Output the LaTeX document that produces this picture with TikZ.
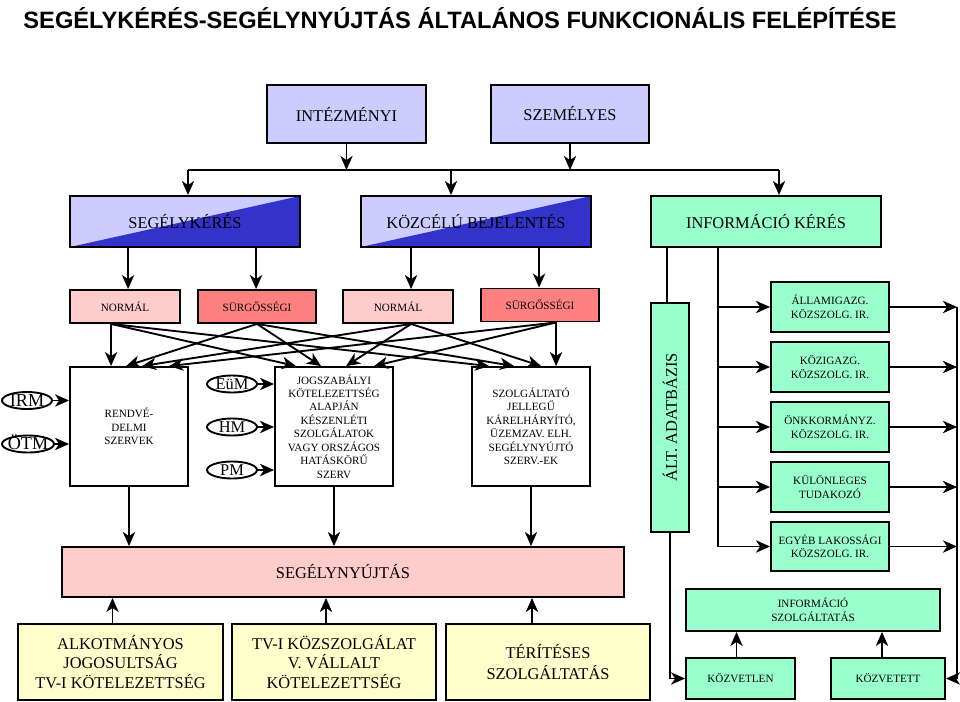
\documentclass[tikz,border=0pt]{standalone}
\usepackage{fontspec}
\setmainfont{Liberation Serif}
\newfontfamily\cimfont{Liberation Sans}
\usetikzlibrary{arrows.meta,shapes.geometric,calc}

\definecolor{lila}{HTML}{CCCCFF}
\definecolor{kek}{HTML}{3333CC}
\definecolor{menta}{HTML}{99FFCC}
\definecolor{rozsa}{HTML}{FFCCCC}
\definecolor{piros}{HTML}{FF8080}
\definecolor{sarga}{HTML}{FFFFCC}

\begin{document}
\begin{tikzpicture}[x=0.03cm, y=-0.03cm,
	doboz/.style={draw, line width=1.6pt, inner sep=1pt, align=center},
	meret/.style 2 args={minimum width=#1*0.03cm, minimum height=#2*0.03cm},
	nagy/.style={font=\fontsize{14}{16.5}\selectfont},
	kicsi/.style={font=\fontsize{9.5}{11.5}\selectfont},
	kor/.style={draw, ellipse, line width=1.6pt, inner sep=0pt, text height=9.5pt, text depth=0pt, minimum width=50*0.03cm, minimum height=17*0.03cm, font=\fontsize{14}{16}\selectfont},
	nyil/.style={-{Stealth[length=12pt,width=10.5pt,inset=3.5pt]}, line width=1.6pt},
	vonal/.style={line width=1.6pt},
	felkek/.style={fill=lila, path picture={\fill[kek] (path picture bounding box.south west) -- (path picture bounding box.north east) -- (path picture bounding box.south east) -- cycle;}}]
	\useasboundingbox (0,0) rectangle (960,701);
	\node[font=\cimfont\bfseries\fontsize{20.2}{22}\selectfont, anchor=base] (cim) at (460,28) {SEGÉLYKÉRÉS-SEGÉLYNYÚJTÁS ÁLTALÁNOS FUNKCIONÁLIS FELÉPÍTÉSE};
	% felso sor
	\node[doboz, nagy, fill=lila, meret={159}{58}] (intez) at (346.5,114) {INTÉZMÉNYI};
	\node[doboz, nagy, fill=lila, meret={158}{58}] (szem) at (570,114) {SZEMÉLYES};
	\coordinate (gyujtoB) at (188,170);
	\coordinate (gyujtoK) at (451,170);
	\coordinate (gyujtoJ) at (779,170);
	\draw[vonal] (gyujtoB) -- (gyujtoJ);
	\draw[nyil] (intez.south) -- (intez.south |- gyujtoB);
	\draw[nyil] (szem.south) -- (szem.south |- gyujtoB);
	% keresek
	\node[doboz, nagy, felkek, meret={230}{51}] (segk) at (185,221.5) {SEGÉLYKÉRÉS};
	\node[doboz, nagy, felkek, meret={230}{51}] (kozc) at (476,221.5) {KÖZCÉLÚ BEJELENTÉS};
	\node[doboz, nagy, fill=menta, meret={230}{51}] (infk) at (766,221.5) {INFORMÁCIÓ KÉRÉS};
	\foreach \g/\n in {gyujtoB/segk, gyujtoK/kozc, gyujtoJ/infk}
		\draw[nyil] (\g) -- (\g |- \n.north);
	% normal / surgossegi
	\node[doboz, kicsi, fill=rozsa, meret={110}{33}] (norm1) at (125,306.5) {NORMÁL};
	\node[doboz, kicsi, fill=piros, meret={118}{33}] (surg1) at (257,306.5) {SÜRGŐSSÉGI};
	\node[doboz, kicsi, fill=rozsa, meret={110}{33}] (norm2) at (398,306.5) {NORMÁL};
	\node[doboz, kicsi, fill=piros, meret={118}{33}] (surg2) at (540,305) {SÜRGŐSSÉGI};
	\coordinate (k1) at ($(segk.south west)+(59,0)$);
	\coordinate (k2) at ($(segk.south west)+(187,0)$);
	\coordinate (k3) at ($(kozc.south west)+(51,0)$);
	\coordinate (k4) at ($(kozc.south west)+(179,0)$);
	\foreach \k/\n in {k1/norm1, k2/surg1, k3/norm2, k4/surg2}
		\draw[nyil] (\k) -- (\k |- \n.north);
	% szervek
	\node[doboz, kicsi, meret={118}{119}] (rend) at (129,426.5) {RENDVÉ-\\DELMI\\SZERVEK};
	\node[doboz, kicsi, meret={118}{119}] (jog) at (334,426.5) {JOGSZABÁLYI\\KÖTELEZETTSÉG\\ALAPJÁN\\KÉSZENLÉTI\\SZOLGÁLATOK\\VAGY ORSZÁGOS\\HATÁSKÖRŰ\\SZERV};
	\node[doboz, kicsi, meret={118}{119}] (szolg) at (531,426.5) {SZOLGÁLTATÓ\\JELLEGŰ\\KÁRELHÁRYÍTÓ,\\ÜZEMZAV. ELH.\\SEGÉLYNYÚJTÓ\\SZERV.-EK};
	\coordinate (f1) at ($(norm1.south west)+(42,0)$);
	\coordinate (f2) at (surg1.south);
	\coordinate (f3) at ($(norm2.south west)+(69,0)$);
	\coordinate (f4) at ($(surg2.south west)+(76,0)$);
	\foreach \n/\a/\b/\c/\d in {rend/42/57/73/100, jog/22/47/72/100, szolg/18/43/70/85} {
		\draw[nyil] (f1) -- ($(\n.north west)+(\a,0)$);
		\draw[nyil] (f2) -- ($(\n.north west)+(\b,0)$);
		\draw[nyil] (f3) -- ($(\n.north west)+(\c,0)$);
		\draw[nyil] (f4) -- ($(\n.north west)+(\d,0)$);
	}
	% miniszteriumok
	\node[kor, font=\fontsize{15.5}{17}\selectfont] (irm) at (27,400.5) {\makebox[0pt]{IRM}};
	\node[kor, font=\fontsize{15.5}{17}\selectfont, minimum width=52*0.03cm] (otm) at (28,444) {\makebox[0pt]{ÖTM}};
	\node[kor] (eum) at (232,384) {\makebox[0pt]{EüM}};
	\node[kor] (hm) at (232,427) {\makebox[0pt]{HM}};
	\node[kor] (pm) at (232,470) {\makebox[0pt]{PM}};
	\foreach \n in {irm, otm}
		\draw[nyil] (\n.east) -- (\n.east -| rend.west);
	\foreach \n in {eum, hm, pm}
		\draw[nyil] (\n.east) -- (\n.east -| jog.west);
	% adatbazis es nyilvantartasok
	\node[doboz, fill=menta, meret={38}{229}] (adat) at (670,417.5) {};
	\node[nagy, rotate=90] (adatfel) at (adat.center) {ÁLT. ADATBÁZIS};
	\coordinate (i1) at ($(infk.south west)+(17,0)$);
	\coordinate (i2) at ($(infk.south west)+(68,0)$);
	\draw[vonal] (i1) -- (i1 |- adat.north);
	\node[doboz, kicsi, fill=menta, meret={118}{50}] (allam) at (830,307) {ÁLLAMIGAZG.\\KÖZSZOLG. IR.};
	\node[doboz, kicsi, fill=menta, meret={118}{50}] (kozig) at (830,367) {KÖZIGAZG.\\KÖZSZOLG. IR.};
	\node[doboz, kicsi, fill=menta, meret={118}{50}] (onk) at (830,427) {ÖNKKORMÁNYZ.\\KÖZSZOLG. IR.};
	\node[doboz, kicsi, fill=menta, meret={118}{50}] (kulon) at (830,487) {KÜLÖNLEGES\\TUDAKOZÓ};
	\node[doboz, kicsi, fill=menta, meret={118}{49}] (egyeb) at (830,546.5) {EGYÉB LAKOSSÁGI\\KÖZSZOLG. IR.};
	\draw[nyil] (i2) |- (egyeb.west);
	\foreach \n in {allam, kozig, onk, kulon}
		\draw[nyil] (i2 |- \n.west) -- (\n.west);
	\coordinate (jobbsin) at (957,307);
	\foreach \n in {allam, kozig, onk, kulon, egyeb}
		\draw[nyil] (\n.east) -- (\n.east -| jobbsin);
	% informacio szolgaltatas
	\node[doboz, kicsi, fill=menta, meret={254}{42}] (infsz) at (813,610) {INFORMÁCIÓ\\SZOLGÁLTATÁS};
	\node[doboz, kicsi, fill=menta, meret={109}{41}] (kozvl) at (740.5,678.5) {KÖZVETLEN};
	\node[doboz, kicsi, fill=menta, meret={114}{41}] (kozvt) at (888,678.5) {KÖZVETETT};
	\draw[nyil] (jobbsin) |- (kozvt.east);
	\draw[nyil] (adat.south) |- (kozvl.west);
	\draw[nyil] ($(kozvl.north)+(-4,0)$) -- ($(kozvl.north |- infsz.south)+(-4,0)$);
	\draw[nyil] ($(kozvt.north)+(-6,0)$) -- ($(kozvt.north |- infsz.south)+(-6,0)$);
	% segelynyujtas
	\node[doboz, nagy, fill=rozsa, meret={562}{50}] (segny) at (343,572) {SEGÉLYNYÚJTÁS};
	\foreach \n in {rend, jog, szolg}
		\draw[nyil] (\n.south) -- (\n.south |- segny.north);
	\node[doboz, nagy, fill=sarga, meret={205}{76}] (alk) at (120.5,662) {ALKOTMÁNYOS\\JOGOSULTSÁG\\TV-I KÖTELEZETTSÉG};
	\node[doboz, nagy, fill=sarga, meret={204}{76}] (tvi) at (334,662) {TV-I KÖZSZOLGÁLAT\\V. VÁLLALT\\KÖTELEZETTSÉG};
	\node[doboz, nagy, fill=sarga, meret={204}{76}, font=\fontsize{14}{18.5}\selectfont] (ter) at (548,662) {TÉRÍTÉSES\\SZOLGÁLTATÁS};
	\foreach \n/\d in {alk/-8, tvi/-8, ter/-16}
		\draw[nyil] ($(\n.north)+(\d,0)$) -- ($(\n.north |- segny.south)+(\d,0)$);
\end{tikzpicture}
\end{document}
